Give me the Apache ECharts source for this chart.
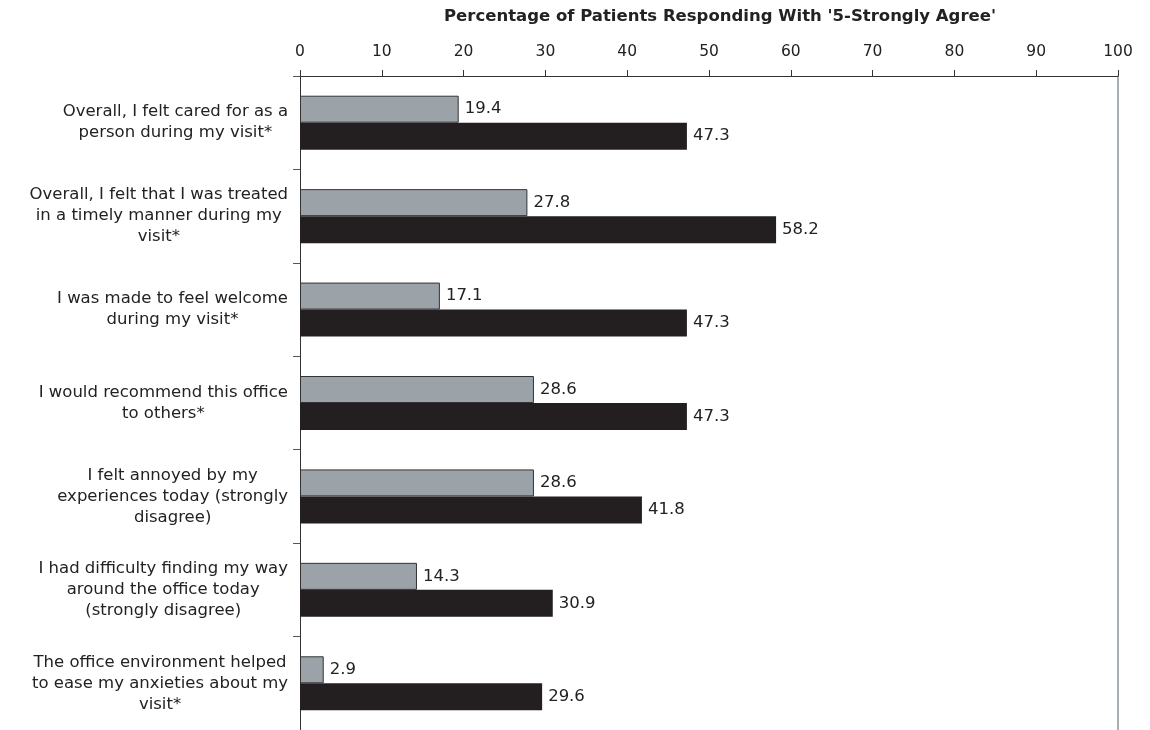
<!DOCTYPE html>
<html>
<head>
<meta charset="utf-8">
<script src="https://cdn.jsdelivr.net/npm/echarts@6/dist/echarts.min.js"></script>
<style>
html,body{margin:0;padding:0;background:#fff;}
#chart{width:1150px;height:730px;}
</style>
</head>
<body>
<div id="chart"></div>
<script>
var categories = [
  "Overall, I felt cared for as a\nperson during my visit*",
  "Overall, I felt that I was treated\nin a timely manner during my\nvisit*",
  "I was made to feel welcome\nduring my visit*",
  "I would recommend this office\nto others*",
  "I felt annoyed by my\nexperiences today (strongly\ndisagree)",
  "I had difficulty finding my way\naround the office today\n(strongly disagree)",
  "The office environment helped\nto ease my anxieties about my\nvisit*"
];
var grayValues = [19.4, 27.8, 17.1, 28.6, 28.6, 14.3, 2.9];
var blackValues = [47.3, 58.2, 47.3, 47.3, 41.8, 30.9, 29.6];
var xTitle = "Percentage of Patients Responding With '5-Strongly Agree'";

var FONT = "DejaVu Sans";
var chart = echarts.init(document.getElementById('chart'), null, {renderer: 'canvas'});
chart.setOption({
  animation: false,
  backgroundColor: '#ffffff',
  textStyle: {fontFamily: FONT},
  grid: {left: 300, right: 32, top: 76, bottom: 0, containLabel: false},
  xAxis: {
    type: 'value', position: 'top', min: 0, max: 100, interval: 10,
    name: xTitle, nameLocation: 'middle', nameGap: 51,
    nameTextStyle: {fontFamily: FONT, fontSize: 16.5, fontWeight: 'bold', color: '#222', padding: [0, 0, 0, 22]},
    axisLine: {show: true, lineStyle: {color: '#333', width: 1}},
    axisTick: {show: true, length: 6, lineStyle: {color: '#333'}},
    axisLabel: {fontFamily: FONT, fontSize: 15.5, color: '#222', margin: 16},
    splitLine: {show: false}
  },
  yAxis: [{
    type: 'category', inverse: true, data: categories,
    axisLine: {show: true, lineStyle: {color: '#333', width: 1}},
    axisTick: {show: true, length: 7, alignWithLabel: false, lineStyle: {color: '#555'}},
    axisLabel: {
      margin: 12,
      formatter: function (v) {
        return v.split('\n').map(function (s) { return '{c|' + s + '}'; }).join('\n');
      },
      rich: {c: {align: 'center', fontFamily: FONT, fontSize: 16.5, color: '#222', lineHeight: 21}}
    }
  }, {
    type: 'category', inverse: true, data: categories, position: 'right',
    axisLine: {show: true, lineStyle: {color: '#8a949c', width: 1.5}},
    axisTick: {show: false}, axisLabel: {show: false}
  }],
  series: [{
    type: 'bar', name: 'gray', data: grayValues, barWidth: 27, barGap: '0%',
    itemStyle: {color: '#9ba2a8', borderColor: '#333', borderWidth: 1},
    label: {show: true, position: 'right', distance: 6, fontFamily: FONT, fontSize: 16.5, color: '#222',
      formatter: function (p) { return p.value.toFixed(1); }}
  }, {
    type: 'bar', name: 'black', data: blackValues, barWidth: 27, barGap: '0%',
    itemStyle: {color: '#231f20'},
    label: {show: true, position: 'right', distance: 6, fontFamily: FONT, fontSize: 16.5, color: '#222',
      formatter: function (p) { return p.value.toFixed(1); }}
  }]
});
</script>
</body>
</html>
